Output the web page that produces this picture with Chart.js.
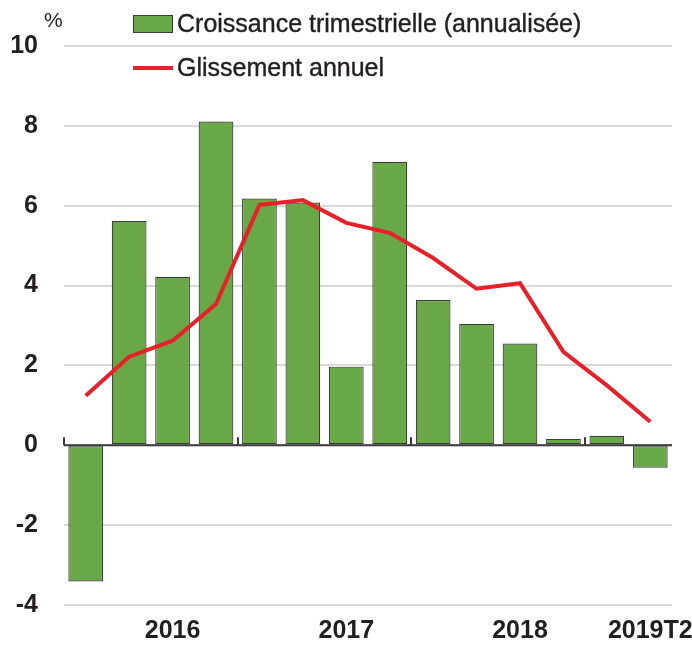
<!DOCTYPE html>
<html>
<head>
<meta charset="utf-8">
<script src="https://cdn.jsdelivr.net/npm/chart.js@4.4.1/dist/chart.umd.min.js"></script>
<style>
    body { margin: 0; background: #fff; }
    #wrap { position: relative; width: 692px; height: 646px; font-family: "Liberation Sans", Arial, sans-serif; color: #231f20; }
    #unit { position: absolute; left: 44px; top: 8px; font-size: 21px; }
    .leg { position: absolute; left: 133px; font-size: 25px; white-space: nowrap; display: flex; align-items: center; -webkit-text-stroke: 0.4px #231f20; }
    .leg .box { width: 38px; height: 16px; background: #69a846; border: 1px solid #3a3a3a; margin-right: 4px; }
    .leg .ln { width: 40px; height: 4px; background: #e8202a; margin-right: 4px; }
</style>
</head>
<body>
<div id="wrap">
    <canvas id="mainChart" width="692" height="646"></canvas>
    <div id="unit">%</div>
    <div class="leg" style="top: 9px;"><span class="box"></span>Croissance trimestrielle (annualisée)</div>
    <div class="leg" style="top: 53px;"><span class="ln"></span>Glissement annuel</div>
</div>
<script>
// Data
const quarters = ['2016T1', '2016T2', '2016T3', '2016T4', '2017T1', '2017T2', '2017T3',
    '2017T4', '2018T1', '2018T2', '2018T3', '2018T4', '2019T1', '2019T2'];
const growth = [-3.41, 5.62, 4.22, 8.11, 6.18, 6.08, 1.97, 7.1, 3.64, 3.04, 2.55, 0.16, 0.24, -0.56];
const yoy = [1.24, 2.22, 2.62, 3.54, 6.02, 6.14, 5.57, 5.32, 4.69, 3.92, 4.06, 2.34, 1.5, 0.59];
const xTickLabels = ['', '', '2016', '', '', '', '2017', '', '', '', '2018', '', '', '2019T2'];
const yTicks = [-4, -2, 0, 2, 4, 6, 8, 10];

const font = "'Liberation Sans', Arial, sans-serif";
const textColor = '#231f20';

// zero line + small tick marks at year boundaries
const yearTicks = {
    id: 'yearTicks',
    afterDatasetsDraw(chart) {
        const x = chart.scales.x, y = chart.scales.y, c = chart.ctx;
        const half = (x.getPixelForValue(1) - x.getPixelForValue(0)) / 2;
        const y0 = y.getPixelForValue(0);
        c.save();
        c.strokeStyle = '#3a3a3a';
        c.lineWidth = 2;
        c.beginPath();
        c.moveTo(chart.chartArea.left, y0);
        c.lineTo(chart.chartArea.right, y0);
        for (let i = 0; i < quarters.length; i += 4) {
            const px = Math.round(x.getPixelForValue(i) - half);
            c.moveTo(px, y0);
            c.lineTo(px, y0 - 8);
        }
        c.stroke();
        c.restore();
    }
};

const ctx = document.getElementById('mainChart').getContext('2d');
new Chart(ctx, {
    data: {
        labels: quarters,
        datasets: [{
            type: 'line',
            label: 'Glissement annuel',
            data: yoy,
            borderColor: '#e8202a',
            borderWidth: 4,
            pointRadius: 0,
            tension: 0,
            order: 0
        }, {
            type: 'bar',
            label: 'Croissance trimestrielle (annualisée)',
            data: growth,
            backgroundColor: '#69a846',
            borderColor: '#3a3a3a',
            borderWidth: 1.2,
            borderSkipped: false,
            categoryPercentage: 1,
            barPercentage: 0.8,
            order: 1
        }]
    },
    options: {
        responsive: false,
        animation: false,
        layout: { padding: { top: 46, right: 20, left: 0, bottom: 0 } },
        plugins: {
            legend: { display: false },
            tooltip: { enabled: false }
        },
        scales: {
            x: {
                offset: true,
                grid: { display: false, drawTicks: false },
                border: { display: false },
                ticks: {
                    autoSkip: false,
                    maxRotation: 0,
                    padding: 11,
                    color: textColor,
                    font: { family: font, size: 25, weight: 'bold' },
                    callback: (v, i) => xTickLabels[i]
                },
                afterFit: (s) => { s.height = 41; s.paddingLeft = 0; s.paddingRight = 0; }
            },
            y: {
                min: -4,
                max: 10,
                afterBuildTicks: (s) => { s.ticks = yTicks.map(v => ({ value: v })); },
                grid: {
                    color: '#d9d9d9',
                    lineWidth: 2,
                    drawTicks: false
                },
                border: { display: false },
                ticks: {
                    padding: 26,
                    color: textColor,
                    font: { family: font, size: 25, weight: 'bold' }
                },
                afterFit: (s) => { s.width = 64; s.paddingTop = 0; s.paddingBottom = 0; }
            }
        }
    },
    plugins: [yearTicks]
});
</script>
</body>
</html>
